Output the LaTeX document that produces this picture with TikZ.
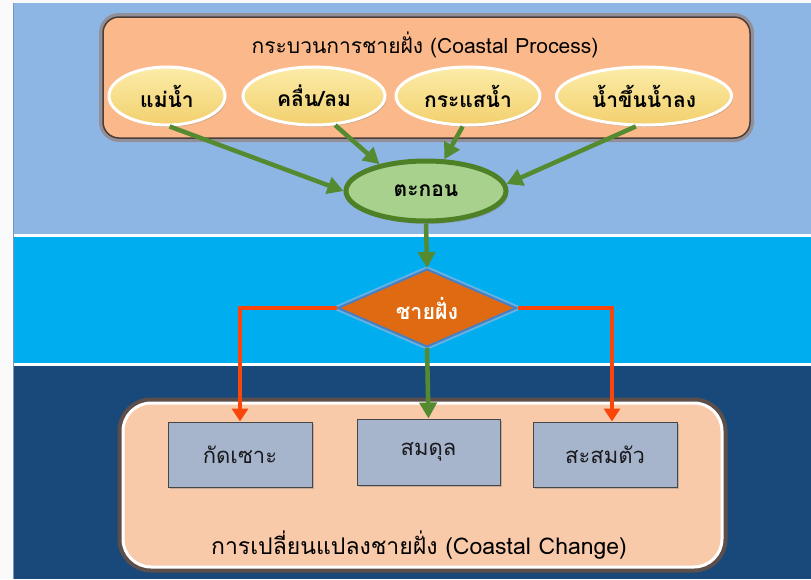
\documentclass[tikz,border=0pt]{standalone}
\usepackage{fontspec}
\newfontfamily\thai[Script=Thai]{Loma}
\usetikzlibrary{shapes.geometric,arrows.meta,shadows,calc}

\definecolor{bgA}{RGB}{142,182,228}
\definecolor{bgB}{RGB}{0,174,239}
\definecolor{bgC}{RGB}{24,73,122}
\definecolor{procfill}{RGB}{251,185,139}
\definecolor{procline}{RGB}{75,62,56}
\definecolor{procglow}{RGB}{150,112,90}
\definecolor{elltop}{RGB}{252,236,168}
\definecolor{ellbot}{RGB}{242,208,110}
\definecolor{sedfill}{RGB}{169,209,142}
\definecolor{sedline}{RGB}{78,128,40}
\definecolor{diafill}{RGB}{224,106,18}
\definecolor{dialine}{RGB}{70,128,196}
\definecolor{arrG}{RGB}{84,138,48}
\definecolor{arrR}{RGB}{250,70,10}
\definecolor{chgfill}{RGB}{248,202,170}
\definecolor{chgglow}{RGB}{110,80,62}
\definecolor{rectfill}{RGB}{166,181,204}
\definecolor{rectline}{RGB}{70,70,70}
\definecolor{rtext}{RGB}{25,25,30}
\definecolor{leftline}{RGB}{120,150,185}

\tikzset{
  procbox/.style={rectangle, rounded corners=16pt, fill=procfill, draw=procline, line width=1.5pt,
    preaction={draw=procglow, line width=8pt, opacity=.55, rounded corners=16pt},
    minimum width=647pt, minimum height=121pt, inner sep=0pt},
  chgbox/.style={rectangle, rounded corners=28pt, fill=chgfill, draw=white, line width=3pt,
    preaction={draw=chgglow, line width=11pt, opacity=.8, rounded corners=28pt},
    minimum width=599pt, minimum height=164pt, inner sep=0pt},
  srcell/.style={ellipse, top color=elltop, bottom color=ellbot, draw=white, line width=3pt,
    drop shadow={shadow xshift=1.5pt, shadow yshift=-2pt, opacity=.35},
    minimum height=58pt, inner sep=0pt, font=\thai\fontsize{21}{23}\selectfont\bfseries},
  sedell/.style={ellipse, fill=sedfill, draw=sedline, line width=5pt,
    drop shadow={shadow xshift=2pt, shadow yshift=-3pt, opacity=.35},
    minimum width=160pt, minimum height=60pt, inner sep=0pt, font=\thai\fontsize{21}{23}\selectfont\bfseries},
  coastdia/.style={diamond, aspect=2.3, fill=diafill, draw=dialine, line width=2pt,
    preaction={draw=dialine!60!white, line width=6pt, opacity=.7},
    minimum width=179pt, minimum height=78pt, inner sep=0pt, text=white,
    font=\thai\fontsize{21.5}{23}\selectfont\bfseries},
  chgrect/.style={rectangle, fill=rectfill, draw=rectline, line width=1pt,
    drop shadow={shadow xshift=2pt, shadow yshift=-2pt, opacity=.4},
    minimum width=144pt, minimum height=65pt, inner sep=0pt, text=rtext,
    font=\thai\fontsize{22}{24}\selectfont},
  boxtitle/.style={inner sep=0pt, font=\thai\fontsize{21}{24}\selectfont},
  garrow/.style={draw=arrG, line width=4.5pt, -{Triangle[length=16pt,width=17pt]}},
  rarrow/.style={draw=arrR, line width=4.5pt, -{Triangle[length=13pt,width=16pt]}}
}

\begin{document}
\begin{tikzpicture}[x=1pt,y=-1pt]
\useasboundingbox (0,0) rectangle (811,579);
\fill[white!96!gray] (0,0) rectangle (811,579);
\fill[white] (13,3) rectangle (811,579);
\fill[bgA] (13,3) rectangle (811,233.5);
\fill[bgB] (13,236.5) rectangle (811,363);
\fill[bgC] (13,366) rectangle (811,579);
\draw[leftline, line width=0.6pt] (13.3,3) -- (13.3,579);

% containers
\node[procbox] (pbox) at (426.5,77.5) {};
\node[boxtitle] (ptitle) at (425,45) {กระบวนการชายฝั่ง (Coastal Process)};

\node[chgbox] (cbox) at (422.5,485) {};
\node[boxtitle, font=\thai\fontsize{23}{26}\selectfont] (ctitle) at (419,545) {การเปลี่ยนแปลงชายฝั่ง (Coastal Change)};

% sources
\node[srcell, minimum width=116pt] (m1) at (167,96) {แม่น้ำ};
\node[srcell, minimum width=142pt] (m2) at (314,96) {คลื่น/ลม};
\node[srcell, minimum width=144pt] (m3) at (468,96) {กระแสน้ำ};
\node[srcell, minimum width=175pt] (m4) at (644,96) {น้ำขึ้นน้ำลง};

% sediment and coast
\node[sedell] (tk) at (426,191) {ตะกอน};
\node[coastdia] (dm) at (427,308) {ชายฝั่ง};

% results
\node[chgrect] (r1) at (240,454.5) {กัดเซาะ};
\node[chgrect, minimum width=143pt, minimum height=66pt] (r2) at (428.5,452) {สมดุล};
\node[chgrect] (r3) at (605,454.5) {สะสมตัว};

% connectors
\draw[garrow] (m1.-85) -- (tk.west);
\draw[garrow] (m2.-54) -- (tk.150);
\draw[garrow] (m3.-100) -- (tk.60);
\draw[garrow] (m4.-105) -- (tk.5);
\draw[garrow] (tk.south) -- (dm.north);
\draw[garrow] (dm.south) -- (r2.north);
\draw[rarrow] (dm.west) -| (r1.north);
\coordinate (r3in) at ([xshift=7pt]r3.north);
\draw[rarrow] (dm.east) -| (r3in);
\end{tikzpicture}
\end{document}
